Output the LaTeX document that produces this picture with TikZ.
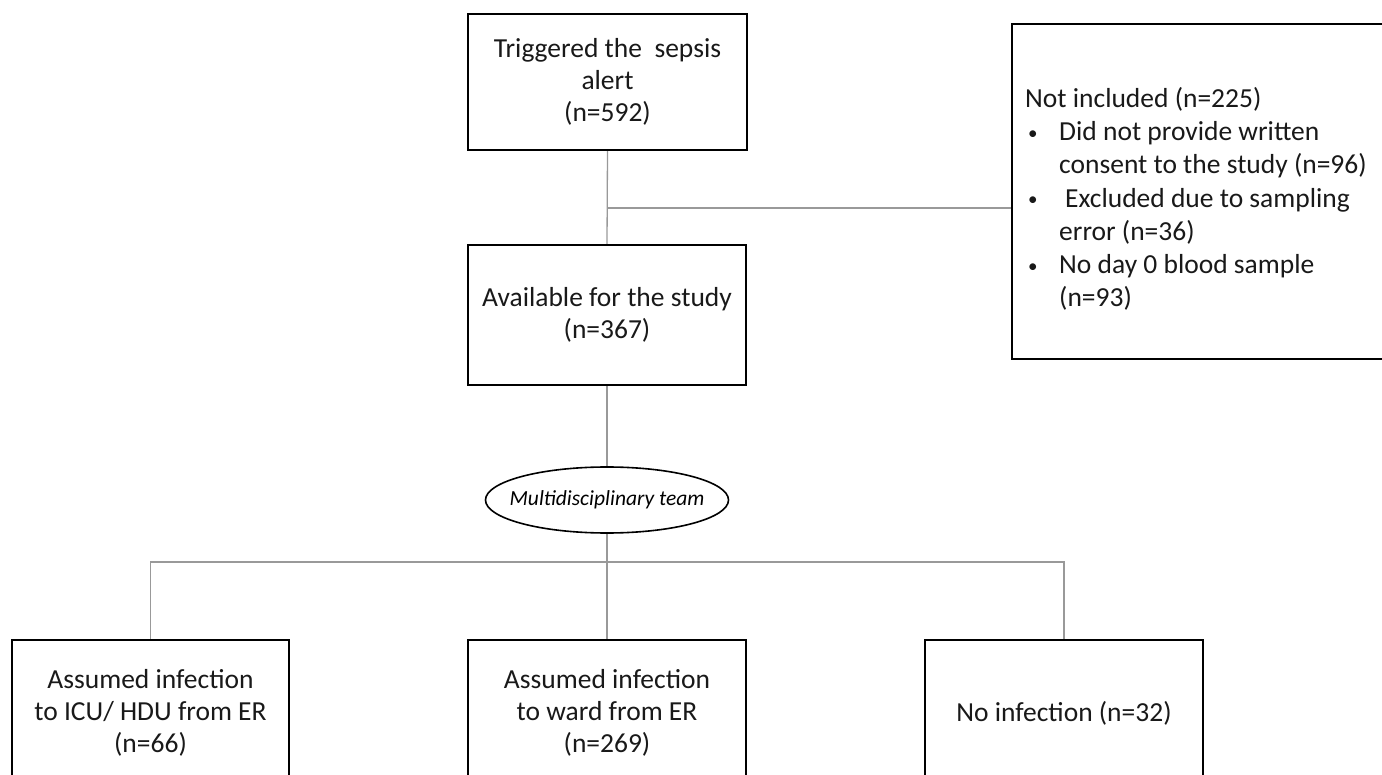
\documentclass[tikz,border=0pt]{standalone}
\usepackage{fontspec}
\setmainfont{Carlito}
\usetikzlibrary{shapes.geometric,calc}
\newcommand{\bul}{\makebox[34pt][l]{\hspace*{3pt}\raisebox{1.5pt}{\fontsize{19}{19}\selectfont •}}}
\begin{document}
\begin{tikzpicture}[x=1pt,y=-1pt,
  box/.style={draw=black,line width=2.2pt,rectangle,inner sep=0pt,align=center,
    text=black!90,font=\fontsize{27.5}{31.8}\selectfont},
  conn/.style={draw=black!40,line width=1.3pt},
  ell/.style={draw=black,line width=1.6pt,ellipse,inner xsep=-12pt,inner ysep=0pt,
    minimum width=243pt,minimum height=66pt,font=\fontsize{21.5}{24}\selectfont\itshape}]
\useasboundingbox (0,0) rectangle (1382,775);
\begin{scope}
\clip (0,0) rectangle (1382,775);
% boxes
\node[box,minimum width=279pt,minimum height=136pt] (trig) at (607.5,82)
  {Triggered the\ \ sepsis\\alert\\(n=592)};
\node[box,minimum width=278pt,minimum height=140pt] (avail) at (607,315)
  {Available for the study\\(n=367)};
\node[box,minimum width=380pt,minimum height=335pt] (excl) at (1202,191.5) {};
\node[anchor=west,inner sep=0pt,align=left,text=black!90,
  font=\fontsize{27.5}{33.2}\selectfont] (excltxt) at (1025,199)
  {Not included (n=225)\\
   \bul Did not provide written\\
   \hspace*{34pt}consent to the study (n=96)\\
   \bul\hspace*{6pt}Excluded due to sampling\\
   \hspace*{34pt}error (n=36)\\
   \bul No day 0 blood sample\\
   \hspace*{34pt}(n=93)};
\node[ell] (mdt) at (607,500) {Multidisciplinary team};
\node[box,minimum width=277pt,minimum height=146pt] (icu) at (150.5,713)
  {Assumed infection\\to ICU/ HDU from ER\\(n=66)};
\node[box,minimum width=278pt,minimum height=146pt] (ward) at (607,713)
  {Assumed infection\\to ward from ER\\(n=269)};
\node[box,minimum width=278pt,minimum height=146pt] (noinf) at (1064,713)
  {No infection (n=32)};
% connectors
\draw[conn] (trig.south) -- (avail.north);
\coordinate (j) at (607.5,208);
\draw[conn] (j) -- (j -| excl.west);
\draw[conn] (avail.south) -- (mdt.north);
\coordinate (br) at (607,562);
\draw[conn] (mdt.south) -- (ward.north);
\draw[conn] (icu.north) -- (icu.north |- br) -- (noinf.north |- br) -- (noinf.north);
\end{scope}
\end{tikzpicture}
\end{document}
